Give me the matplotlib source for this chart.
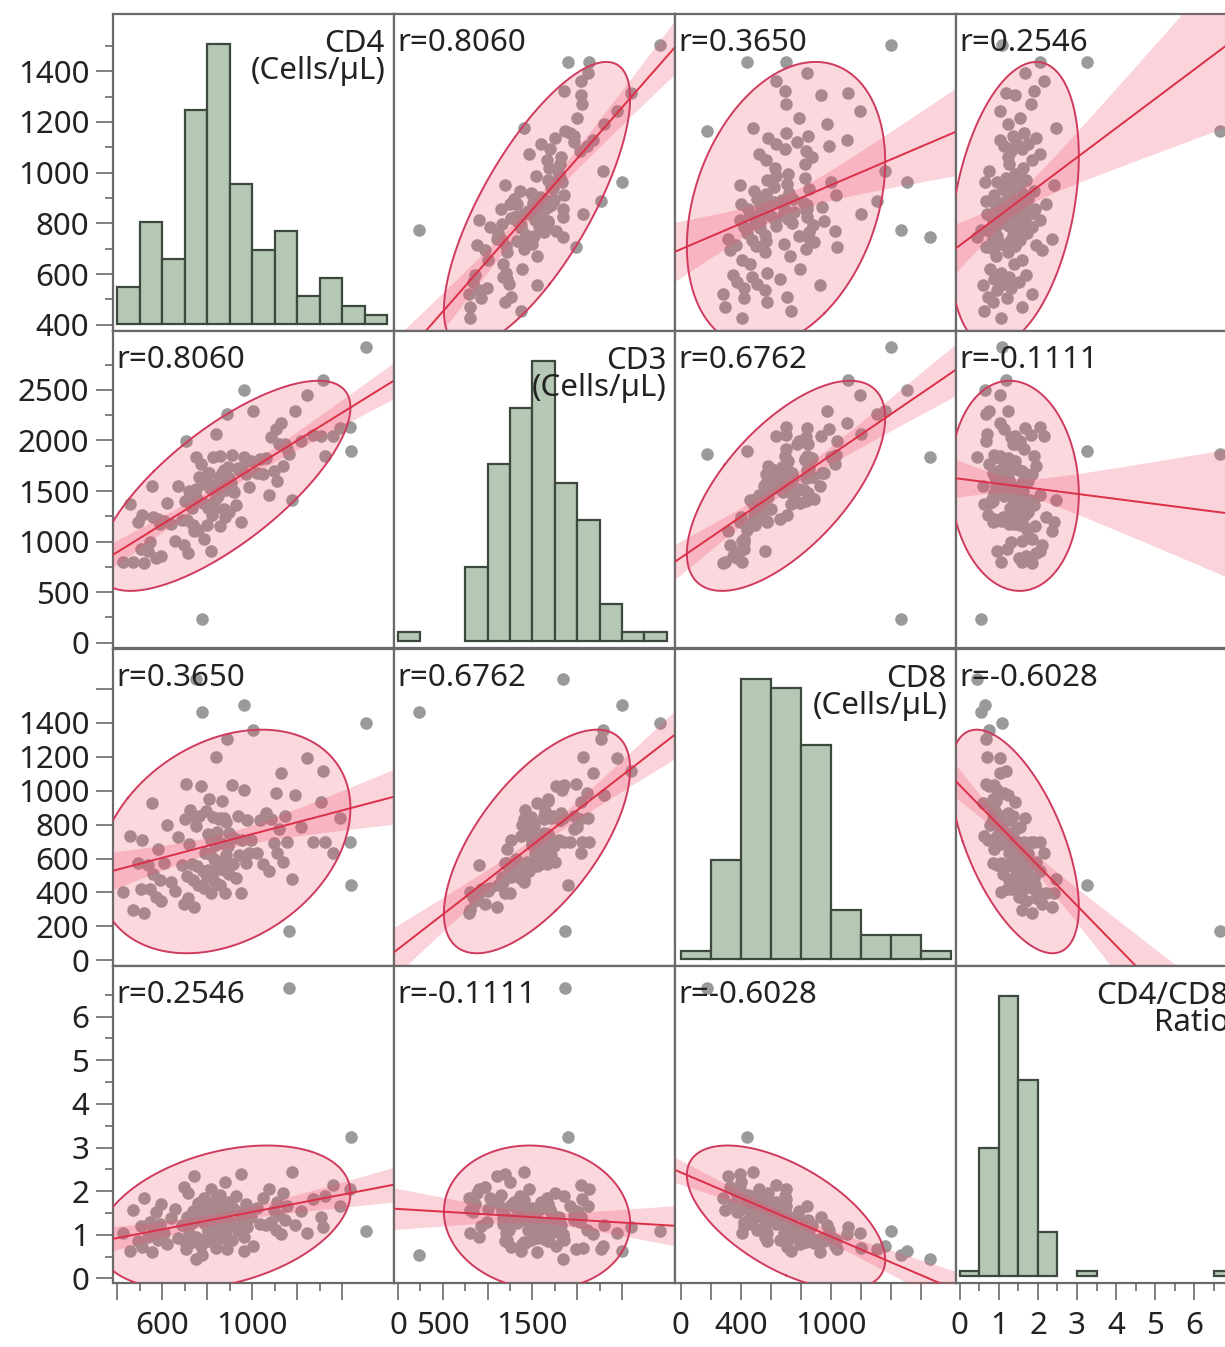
import numpy as np
import matplotlib
matplotlib.use("Agg")
import matplotlib.pyplot as plt

plt.rcParams['font.family'] = ['Noto Sans', 'DejaVu Sans']

# ---- data (one row per subject) ----
cd4 = [425, 455, 470, 490,
       505, 510, 520, 535, 545, 555, 560, 570, 580, 590, 595,
       605, 620, 640, 655, 670, 685, 695,
       700, 705, 710, 715, 720, 725, 730, 735, 740, 745, 750, 755, 760, 765, 770, 780, 785, 790, 792, 795, 798,
       802, 805, 808, 812, 815, 818, 822, 825, 828, 832, 835, 838, 842, 845, 848, 852, 855, 858, 862, 865, 868,
       872, 875, 878, 882, 885, 888, 892, 895, 898,
       905, 910, 915, 920, 928, 935, 942, 950, 955, 962, 970, 978, 985, 995,
       1005, 1020, 1035, 1050, 1062, 1075, 1085, 1095,
       1105, 1112, 1120, 1128, 1135, 1145, 1155, 1178, 1190,
       1215, 1243, 1270,
       1305, 1316, 1324, 1360, 1392,
       1436,
       775, 1505, 1165, 1438, 965, 748]

cd8 = [405, 734, 297, 576,
       421, 708, 281, 563, 419, 925, 509, 375, 659, 472, 350,
       576, 795, 464, 409, 728, 561, 331,
       833, 1037, 500, 367, 686, 884, 570, 474, 315, 847, 789, 559, 442, 850, 1027, 527, 424, 632, 880, 513, 493,
       743, 530, 951, 625, 398, 711, 489, 842, 600, 682, 464, 1197, 581, 754, 537, 835, 838, 447, 690, 940, 556,
       838, 530, 399, 817, 623, 1306, 676, 511, 748,
       566, 1034, 565, 719, 488, 850, 620, 396, 707, 1002, 571, 829, 635, 711,
       1358, 630, 828, 568, 870, 524, 835, 693,
       987, 635, 772, 1106, 582, 848, 700, 481, 975,
       784, 1195, 698,
       932, 1115, 697, 633, 839,
       700,
       1465, 1400, 175, 442, 1505, 1656]

cd3 = [800, 1369, 800, 1196,
       926, 1258, 790, 908, 994, 1550, 1239, 835, 1219, 1172, 855,
       1201, 1385, 1174, 1004, 1548, 1216, 966,
       1403, 1992, 1210, 882, 1496, 1419, 1330, 1159, 1105, 1482, 1519, 1424, 1112, 1635, 1767, 1377, 1029, 1572,
       1642, 1368, 1161,
       1675, 1335, 1679, 1527, 903, 1559, 1261, 1837, 1318, 1494, 1409, 2065, 1443, 1449, 1455, 1627, 1843, 1155,
       1612, 1675, 1554, 1710, 1325, 1247, 1509, 1538, 2264, 1738, 1296, 1626,
       1581, 1854, 1500, 1489, 1366, 1725, 1712, 1196, 1722, 1834, 1671, 1807, 1540, 1796,
       2293, 1680, 1813, 1668, 1822, 1459, 2030, 1698,
       2112, 1597, 1962, 2174, 1747, 1963, 1915, 1409, 2295,
       1999, 2448, 2058,
       2047, 2601, 1851, 2043, 2121,
       2136,
       235, 2925, 1862, 1900, 2500, 1840]

ratio = [1.05, 0.62, 1.58, 0.85,
         1.20, 0.72, 1.85, 0.95, 1.30, 0.60, 1.10, 1.52, 0.88, 1.25, 1.70,
         1.05, 0.78, 1.38, 1.60, 0.92, 1.22, 2.10,
         0.84, 0.68, 1.42, 1.95, 1.05, 0.82, 1.28, 1.55, 2.35, 0.88, 0.95, 1.35, 1.72, 0.90, 0.75, 1.48, 1.85, 1.25,
         0.90, 1.55, 1.62,
         1.08, 1.52, 0.85, 1.30, 2.05, 1.15, 1.68, 0.98, 1.38, 1.22, 1.80, 0.70, 1.45, 1.12, 1.58, 1.02, 1.02, 1.92,
         1.25, 0.92, 1.56, 1.04, 1.65, 2.20, 1.08, 1.42, 0.68, 1.32, 1.75, 1.20,
         1.60, 0.88, 1.62, 1.28, 1.90, 1.10, 1.52, 2.40, 1.35, 0.96, 1.70, 1.18, 1.55, 1.40,
         0.74, 1.62, 1.25, 1.85, 1.22, 2.05, 1.30, 1.58,
         1.12, 1.75, 1.45, 1.02, 1.95, 1.35, 1.65, 2.45, 1.22,
         1.55, 1.04, 1.82,
         1.40, 1.18, 1.90, 2.15, 1.66,
         2.05,
         0.53, 1.08, 6.66, 3.25, 0.64, 0.45]

# histogram counts
cd4_counts = [4, 11, 7, 23, 30, 15, 8, 10, 3, 5, 2, 1]          # bins of 100 from 400
cd3_counts = [1, 0, 0, 8, 19, 25, 30, 17, 13, 4, 1, 1]          # bins of 250 from 0
cd8_counts = [1, 12, 34, 33, 26, 6, 3, 3, 1]                    # bins of 200 from 0
ratio_counts = [1, 23, 50, 35, 8, 0, 1, 0, 0, 0, 0, 0, 0, 1]    # bins of 0.5 from 0

r_labels = [[None, "r=0.8060", "r=0.3650", "r=0.2546"],
            ["r=0.8060", None, "r=0.6762", "r=-0.1111"],
            ["r=0.3650", "r=0.6762", None, "r=-0.6028"],
            ["r=0.2546", "r=-0.1111", "r=-0.6028", None]]

var_names = [("CD4", "(Cells/µL)"), ("CD3", "(Cells/µL)"), ("CD8", "(Cells/µL)"), ("CD4/CD8", "Ratio")]

data = [np.array(cd4, float), np.array(cd3, float), np.array(cd8, float), np.array(ratio, float)]
hists = [(cd4_counts, 400, 100), (cd3_counts, 0, 250), (cd8_counts, 0, 200), (ratio_counts, 0, 0.5)]

xlims = [(380, 1631), (-45, 3092), (-37, 1830), (-0.10, 7.10)]
ylims = [(374, 1626), (-56, 3083), (-35, 1835), (-0.11, 7.16)]

# ticks for left axis (rows) and bottom axis (cols)
y_major = [list(range(400, 1401, 200)), list(range(0, 2501, 500)), list(range(0, 1601, 200)), list(range(0, 7))]
y_labels = [[str(v) for v in y_major[0]], [str(v) for v in y_major[1]],
            [str(v) for v in range(0, 1401, 200)] + [""], [str(v) for v in y_major[3]]]
y_minor = [list(range(500, 1501, 200)), list(range(250, 2751, 500)), [], [k + 0.5 for k in range(7)]]

x_major = [list(range(400, 1401, 200)), list(range(0, 2501, 500)), list(range(0, 1601, 200)), list(range(0, 7))]
x_labels = [["", "600", "", "1000", "", ""], ["0", "500", "", "1500", "", ""],
            ["0", "", "400", "", "", "1000", "", "", ""], [str(v) for v in range(7)]]
x_minor = [list(range(500, 1301, 200)), list(range(250, 2251, 500)), [], [k + 0.5 for k in range(7)]]

# ---- style ----
POINT = "#9a9a9a"
FILL = "#eb3c5a"
BAND = "#f0506e"
LINE = "#dc2f48"
EDGE = "#cf3a5d"
HIST_FILL = "#b5c7b5"
HIST_EDGE = "#3d493d"
FRAME = "#6a6a6a"
TXT = "#222222"
FS = 22.5

W, H = 1225, 1347
col_left = [113, 394, 675, 956]
row_top = [14, 331, 649, 966]
pw, ph = 281, 317.3


def ellipse_xy(x, y):
    cov = np.cov(x, y)
    vals, vecs = np.linalg.eigh(cov)
    t = np.linspace(0, 2 * np.pi, 240)
    circ = np.vstack([np.cos(t), np.sin(t)])
    pts = vecs @ (np.sqrt(vals)[:, None] * circ) * np.sqrt(5.991)
    return x.mean() + pts[0], y.mean() + pts[1]


def fit_band(x, y, xs):
    n = len(x)
    b, a = np.polyfit(x, y, 1)
    yh = a + b * xs
    s = np.sqrt(((y - (a + b * x)) ** 2).sum() / (n - 2))
    sxx = ((x - x.mean()) ** 2).sum()
    se = s * np.sqrt(1.0 / n + (xs - x.mean()) ** 2 / sxx)
    return yh, yh - 1.98 * se, yh + 1.98 * se


fig = plt.figure(figsize=(W / 100, H / 100), dpi=100)
fig.patch.set_facecolor("white")

for i in range(4):
    for j in range(4):
        ax = fig.add_axes([col_left[j] / W, 1 - (row_top[i] + ph) / H, pw / W, ph / H])
        ax.set_xlim(xlims[j])
        ax.set_ylim(ylims[i])
        for sp in ax.spines.values():
            sp.set_color(FRAME)
            sp.set_linewidth(1.6)

        if i == j:
            counts, start, width = hists[i]
            hax = ax.twinx()
            m = max(counts)
            hax.set_ylim(-7.0 / 280 * m, 310.3 / 280 * m)
            lefts = [start + k * width for k, c in enumerate(counts) if c > 0]
            heights = [c for c in counts if c > 0]
            hax.bar(lefts, heights, width=width, align="edge", color=HIST_FILL,
                    edgecolor=HIST_EDGE, linewidth=1.6, zorder=1)
            hax.set_yticks([])
            for sp in hax.spines.values():
                sp.set_visible(False)
            name1, name2 = var_names[i]
            hax.text(1 - 9 / pw, 1 - 15 / ph, name1, transform=hax.transAxes, ha="right", va="top",
                     fontsize=FS, color=TXT, zorder=10)
            hax.text(1 - 8 / pw, 1 - 42 / ph, name2, transform=hax.transAxes, ha="right", va="top",
                     fontsize=FS, color=TXT, zorder=10)
        else:
            x, y = data[j], data[i]
            ax.scatter(x, y, s=82, color=POINT, linewidths=0, zorder=1)
            ex, ey = ellipse_xy(x, y)
            ax.fill(ex, ey, color=FILL, alpha=0.2, linewidth=0, zorder=2)
            xs = np.linspace(xlims[j][0], xlims[j][1], 200)
            yh, lo, hi = fit_band(x, y, xs)
            ax.fill_between(xs, lo, hi, color=BAND, alpha=0.25, linewidth=0, zorder=3)
            ax.plot(ex, ey, color=EDGE, linewidth=1.4, zorder=4)
            ax.plot(xs, yh, color=LINE, linewidth=1.4, zorder=5)
            ax.text(3 / pw, 1 - 14 / ph, r_labels[i][j], transform=ax.transAxes, ha="left", va="top",
                    fontsize=FS, color=TXT, zorder=10)

        # axes ticks only on the outer left column and bottom row
        if j == 0:
            ax.set_yticks(y_major[i])
            ax.set_yticklabels(y_labels[i])
            ax.set_yticks(y_minor[i], minor=True)
        else:
            ax.set_yticks([])
            ax.set_yticks([], minor=True)
        if i == 3:
            ax.set_xticks(x_major[j])
            ax.set_xticklabels(x_labels[j])
            ax.set_xticks(x_minor[j], minor=True)
        else:
            ax.set_xticks([])
            ax.set_xticks([], minor=True)
        ax.tick_params(which="major", direction="out", length=12, width=1.2, color=FRAME,
                       labelsize=FS, labelcolor=TXT, pad=5)
        ax.tick_params(axis="x", which="major", pad=8)
        ax.tick_params(which="minor", direction="out", length=6, width=1.2, color=FRAME)

fig.savefig("out.png", dpi=100, facecolor="white")
